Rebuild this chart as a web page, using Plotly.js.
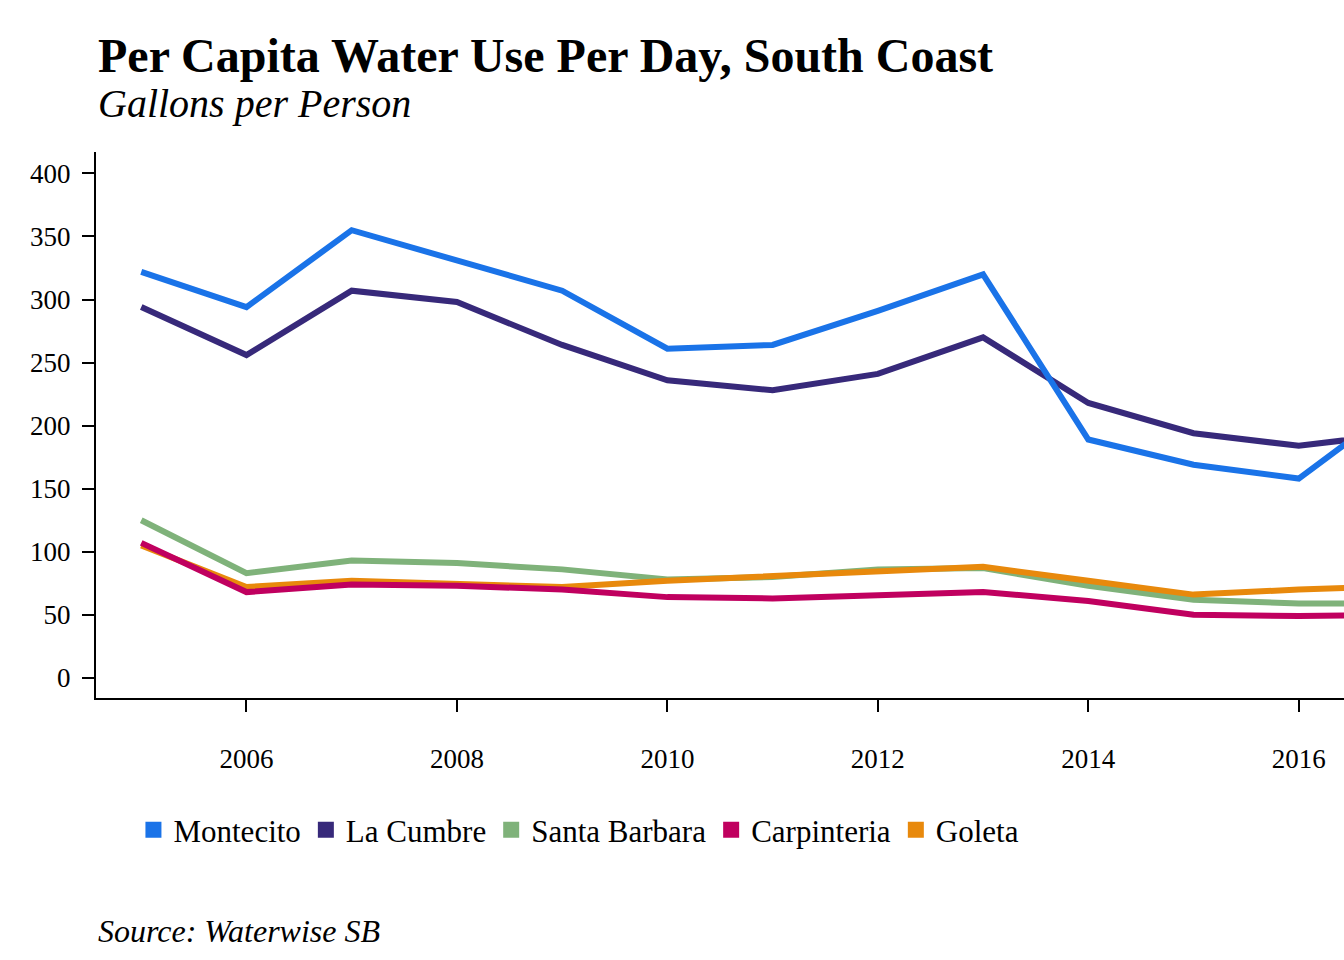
<!DOCTYPE html>
<html><head><meta charset="utf-8">
<script src="https://cdn.plot.ly/plotly-3.0.1.min.js"></script>
<style>body{margin:0}#chart{width:1344px;height:960px}</style>
</head><body><div id="chart"></div>
<script>
// values
var years = [2005,2006,2007,2008,2009,2010,2011,2012,2013,2014,2015,2016,2017];
var montecito = [322,294,355,331,307,261,264,291,320,189,169,158,220];
var laCumbre = [294,256,307,298,264,236,228,241,270,218,194,184,194];
var santaBarbara = [125,83,93,91,86,78,80,86,87,73,62,59,59];
var carpinteria = [107,68,74,73,70,64,63,66,68,61,50,49,50];
var goleta = [105,72,77,75,72,77,81,84,88,77,66,70,73];

var names = ['Montecito','La Cumbre','Santa Barbara','Carpinteria','Goleta'];
var colors = ['#1a73e8','#37297a','#7fb27a','#c0005f','#e8890c'];
var series = [montecito, laCumbre, santaBarbara, carpinteria, goleta];

var data = [];
[2,4,3,1,0].forEach(function(i){
    data.push({x: years, y: series[i], mode: 'lines', showlegend: false,
        line: {color: colors[i], width: 6}, hoverinfo: 'none'});
});
// square legend keys
names.forEach(function(n, i){
    data.push({x: [null], y: [null], mode: 'markers', name: n,
        marker: {symbol: 'square', size: 30, color: colors[i]}});
});

var font = 'Liberation Serif, Times New Roman, serif';
var layout = {
    width: 1344, height: 960,
    margin: {l: 96, r: 0, t: 152, b: 262},
    paper_bgcolor: 'white', plot_bgcolor: 'white',
    font: {family: font, size: 27, color: '#000'},
    showlegend: true,
    legend: {orientation: 'h', x: 0.03, xanchor: 'left', y: -0.242, yanchor: 'middle',
        font: {size: 31}, itemwidth: 30, tracegroupgap: 0},
    xaxis: {range: [2004.57, 2016.43], showgrid: false, zeroline: false,
        showline: true, linecolor: '#000', linewidth: 2,
        ticks: 'outside', ticklen: 12, tickwidth: 2, tickcolor: '#000',
        tickvals: [2006,2008,2010,2012,2014,2016], ticklabelstandoff: 24},
    yaxis: {range: [-16, 417], showgrid: false, zeroline: false,
        showline: true, linecolor: '#000', linewidth: 2,
        ticks: 'outside', ticklen: 12, tickwidth: 2, tickcolor: '#000',
        tickvals: [0,50,100,150,200,250,300,350,400], ticklabelstandoff: 6},
    annotations: [
        {text: '<b>Per Capita Water Use Per Day, South Coast</b>', xref: 'paper', yref: 'paper',
         x: 0, xanchor: 'left', y: 1.177, yanchor: 'middle', showarrow: false,
         font: {size: 48, family: font}},
        {text: '<i>Gallons per Person</i>', xref: 'paper', yref: 'paper',
         x: 0, xanchor: 'left', y: 1.088, yanchor: 'middle', showarrow: false,
         font: {size: 40, family: font}},
        {text: '<i>Source: Waterwise SB</i>', xref: 'paper', yref: 'paper',
         x: 0, xanchor: 'left', y: -0.427, yanchor: 'middle', showarrow: false,
         font: {size: 32, family: font}}
    ]
};

Plotly.newPlot('chart', data, layout, {staticPlot: true});
</script>
</body></html>
